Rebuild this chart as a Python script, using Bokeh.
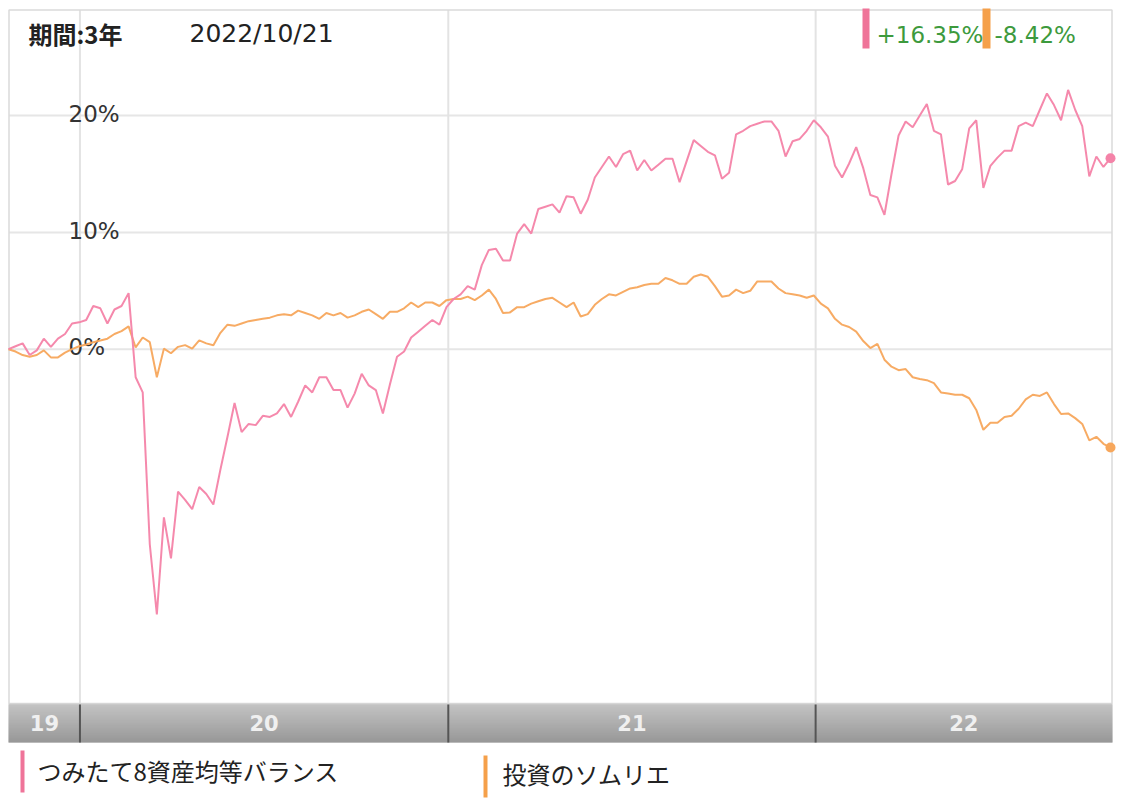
import pandas as pd
from bokeh.plotting import figure
from bokeh.models import Range1d
from bokeh.core.properties import value
from bokeh.embed import file_html
from bokeh.resources import INLINE

# ---------------- data ----------------
period_label = "期間:3年"
as_of_label = "2022/10/21"
start_date = "2019-10-22"
end_date = "2022-10-21"
series_names = ["つみたて8資産均等バランス", "投資のソムリエ"]
series_colors = ["#f483a8", "#f7a75c"]
marker_colors = ["#ef7499", "#f5a04a"]

# weekly cumulative return (%)
tsumitate_8 = [
    0.0, 0.25, 0.5, -0.5, -0.1, 0.9, 0.2, 0.9, 1.3, 2.2,
    2.3, 2.5, 3.7, 3.5, 2.2, 3.4, 3.7, 4.8, -2.4, -3.7,
    -16.7, -22.7, -14.4, -17.9, -12.2, -12.9, -13.7, -11.8, -12.4, -13.3,
    -10.3, -7.5, -4.6, -7.1, -6.4, -6.5, -5.7, -5.8, -5.5, -4.7,
    -5.8, -4.5, -3.1, -3.7, -2.4, -2.4, -3.5, -3.5, -5.0, -3.8,
    -2.1, -3.1, -3.5, -5.5, -3.0, -0.65, -0.2, 1.0, 1.5, 2.0,
    2.5, 2.1, 3.6, 4.3, 4.7, 5.4, 5.1, 7.2, 8.5, 8.6,
    7.6, 7.6, 9.9, 10.7, 9.9, 12.0, 12.2, 12.4, 11.7, 13.1,
    13.0, 11.6, 12.8, 14.7, 15.6, 16.5, 15.6, 16.7, 17.0, 15.3,
    16.2, 15.3, 15.8, 16.3, 16.3, 14.3, 16.1, 17.9, 17.4, 16.9,
    16.6, 14.6, 15.1, 18.4, 18.7, 19.1, 19.3, 19.5, 19.5, 18.7,
    16.5, 17.8, 18.0, 18.7, 19.6, 19.0, 18.2, 15.7, 14.7, 15.9,
    17.3, 15.5, 13.2, 13.0, 11.5, 15.0, 18.3, 19.5, 19.0, 20.0,
    21.0, 18.7, 18.4, 14.1, 14.4, 15.4, 18.9, 19.6, 13.8, 15.7,
    16.4, 17.0, 17.0, 19.1, 19.4, 19.1, 20.5, 21.9, 20.9, 19.6,
    22.2, 20.5, 19.1, 14.8, 16.5, 15.6, 16.35,
]
sommelier = [
    0.0, -0.2, -0.5, -0.65, -0.5, -0.1, -0.7, -0.7, -0.3, 0.0,
    0.25, 0.4, 0.6, 0.75, 0.9, 1.3, 1.55, 1.95, 0.15, 1.0,
    0.6, -2.4, 0.05, -0.35, 0.2, 0.35, 0.05, 0.76, 0.5, 0.34,
    1.4, 2.1, 2.0, 2.2, 2.4, 2.5, 2.6, 2.7, 2.9, 3.0,
    2.9, 3.3, 3.1, 2.9, 2.6, 3.1, 2.9, 3.1, 2.7, 2.9,
    3.2, 3.4, 3.0, 2.6, 3.2, 3.2, 3.5, 4.0, 3.6, 4.0,
    4.0, 3.7, 4.2, 4.3, 4.3, 4.5, 4.2, 4.6, 5.1, 4.3,
    3.1, 3.15, 3.6, 3.6, 3.9, 4.1, 4.3, 4.4, 4.0, 3.6,
    4.0, 2.8, 3.0, 3.8, 4.3, 4.7, 4.6, 4.9, 5.2, 5.3,
    5.5, 5.6, 5.6, 6.1, 5.9, 5.6, 5.6, 6.2, 6.4, 6.2,
    5.4, 4.5, 4.6, 5.1, 4.8, 5.0, 5.8, 5.8, 5.8, 5.2,
    4.8, 4.7, 4.6, 4.4, 4.6, 3.9, 3.5, 2.6, 2.1, 1.9,
    1.5, 0.7, 0.1, 0.45, -0.9, -1.5, -1.8, -1.7, -2.4, -2.55,
    -2.65, -2.9, -3.7, -3.8, -3.9, -3.9, -4.2, -5.2, -6.9, -6.3,
    -6.3, -5.8, -5.7, -5.1, -4.3, -3.9, -4.0, -3.7, -4.7, -5.55,
    -5.5, -5.9, -6.4, -7.8, -7.5, -8.1, -8.42,
]
year_starts = ["2020-01-01", "2021-01-01", "2022-01-01"]
year_labels = ["19", "20", "21", "22"]
tick_values = [0, 10, 20]
tick_labels = ["0%", "10%", "20%"]

# ---------------- layout (canvas pixels) ----------------
W, H = 1122, 798
Y0_PX, PX_PER_PCT = 348.7, 11.68
PLOT_L, PLOT_R, PLOT_T, PLOT_B = 8.5, 1111.5, 9.5, 703
BAR_T, BAR_B = 703, 742
X0_PX = 8.0                      # canvas x of start_date
PX_PER_DAY = 1102 / 1095.0

t0 = pd.Timestamp(start_date)
def px_to_time(px):
    return t0 + pd.Timedelta(days=(px - X0_PX) / PX_PER_DAY)

x_start, x_end = px_to_time(0), px_to_time(W)
y_bottom = (Y0_PX - H) / PX_PER_PCT
y_top = Y0_PX / PX_PER_PCT

p = figure(width=W, height=H, output_backend="svg", toolbar_location=None,
           x_axis_type="datetime", x_axis_location=None, y_axis_location=None,
           x_range=Range1d(x_start, x_end), y_range=Range1d(y_bottom, y_top),
           min_border=0, title=None, background_fill_color="white",
           border_fill_color="white", outline_line_color=None)
p.grid.visible = False
p.extra_x_ranges = {"px": Range1d(0, W)}
p.extra_y_ranges = {"px": Range1d(H, 0)}

FONT_JP = value("Noto Sans CJK JP")
FONT_LAT = value("DejaVu Sans")

# horizontal grid lines at tick values
p.segment(x0=[PLOT_L] * len(tick_values), x1=[PLOT_R] * len(tick_values),
          y0=tick_values, y1=tick_values, x_range_name="px",
          line_color="#e6e6e6", line_width=2)
# vertical year lines
years = [pd.Timestamp(s) for s in year_starts]
p.segment(x0=years, x1=years, y0=[PLOT_T] * 3, y1=[PLOT_B] * 3,
          y_range_name="px", line_color="#e3e3e3", line_width=2)
# plot border
p.quad(left=[PLOT_L], right=[PLOT_R], top=[PLOT_T], bottom=[PLOT_B],
       x_range_name="px", y_range_name="px", fill_color=None,
       line_color="#dadada", line_width=1.5)

# tick labels
p.text(x=[68] * len(tick_values), y=[v + 0.15 for v in tick_values], text=tick_labels,
       x_range_name="px", text_font=FONT_LAT, text_font_size=value("23px"),
       text_color="#333333", text_baseline="middle", text_align="left")

# series
dates_a = pd.date_range(start_date, end_date, periods=len(tsumitate_8))
dates_b = pd.date_range(start_date, end_date, periods=len(sommelier))
p.line(dates_b, sommelier, line_color=series_colors[1], line_width=2, line_alpha=0.95)
p.line(dates_a, tsumitate_8, line_color=series_colors[0], line_width=2, line_alpha=0.95)
p.scatter([dates_a[-1]], [tsumitate_8[-1]], size=10, fill_color=series_colors[0],
          line_color=None)
p.scatter([dates_b[-1]], [sommelier[-1]], size=10, fill_color=series_colors[1],
          line_color=None)

# year bar with vertical gradient
n = BAR_B - BAR_T
tops, bots, cols = [], [], []
for i in range(n):
    f = i / max(n - 1, 1)
    g = int(round(176 - (176 - 118) * f))
    if i == 0:
        g = 210
    tops.append(BAR_T + i)
    bots.append(BAR_T + i + 1)
    cols.append("#%02x%02x%02x" % (g, g, g))
p.quad(left=[PLOT_L - 0.5] * n, right=[PLOT_R + 0.5] * n, top=tops, bottom=bots,
       fill_color=cols, line_color=None, x_range_name="px", y_range_name="px")
p.segment(x0=years, x1=years, y0=[BAR_T + 1] * 3, y1=[BAR_B] * 3,
          y_range_name="px", line_color="#555555", line_width=2)

# year labels centred in each segment
edges = [px_to_time(PLOT_L)] + years + [px_to_time(PLOT_R)]
centers = [edges[i] + (edges[i + 1] - edges[i]) / 2 for i in range(len(year_labels))]
p.text(x=centers, y=[722] * len(centers), text=year_labels, y_range_name="px",
       text_font=FONT_LAT, text_font_size=value("21px"), text_font_style="bold",
       text_color="#f0f0f0", text_align="center", text_baseline="middle")

# header texts
p.text(x=[28], y=[33], text=[period_label], x_range_name="px", y_range_name="px",
       text_font=FONT_JP, text_font_size=value("24px"), text_font_style="bold",
       text_color="#222222", text_baseline="middle")
p.text(x=[189], y=[33], text=[as_of_label], x_range_name="px", y_range_name="px",
       text_font=FONT_LAT, text_font_size=value("25px"),
       text_color="#222222", text_baseline="middle")

# latest returns with colour markers
ret_texts = ["%+.2f%%" % tsumitate_8[-1], "%+.2f%%" % sommelier[-1]]
p.quad(left=[862, 982], right=[869, 990], top=[8, 8], bottom=[48, 48],
       fill_color=marker_colors, line_color=None, x_range_name="px", y_range_name="px")
p.text(x=[876, 994], y=[34, 34], text=ret_texts, x_range_name="px", y_range_name="px",
       text_font=FONT_LAT, text_font_size=value("23px"), text_color="#3d9a3d",
       text_baseline="middle")

# legend
p.quad(left=[20, 483], right=[24, 487], top=[750, 755], bottom=[792, 797],
       fill_color=marker_colors, line_color=None, x_range_name="px", y_range_name="px")
p.text(x=[37, 502], y=[770, 773], text=series_names, x_range_name="px", y_range_name="px",
       text_font=FONT_JP, text_font_size=value("24px"), text_color="#222222",
       text_baseline="middle")

open("out.html", "w").write(file_html(p, INLINE))
